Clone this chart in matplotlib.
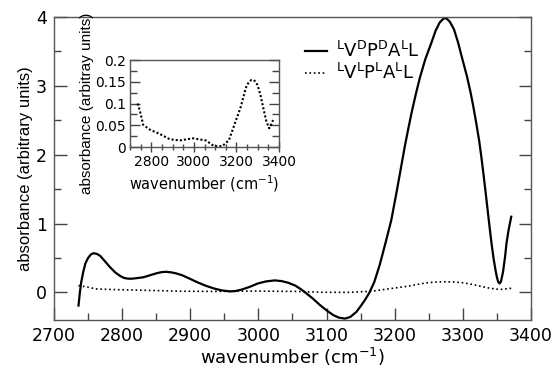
import matplotlib
matplotlib.use('Agg')
import matplotlib.pyplot as plt
from matplotlib.ticker import MultipleLocator

plt.rcParams['font.family'] = ['DejaVu Sans']
plt.rcParams['mathtext.fontset'] = 'custom'
plt.rcParams['mathtext.rm'] = 'DejaVu Sans'
plt.rcParams['mathtext.it'] = 'DejaVu Sans:italic'

# LVDPDAL (solid)
wn_d = [2736, 2738, 2740, 2743, 2746, 2750, 2754, 2758, 2763, 2768, 2775, 2782,
        2790, 2797, 2803, 2809, 2815, 2823, 2831, 2841, 2851, 2858, 2865, 2873,
        2880, 2888, 2897, 2910, 2922, 2934, 2946, 2958, 2966, 2975, 2987, 2999,
        3011, 3024, 3034, 3044, 3054, 3062, 3070, 3080, 3090, 3100, 3110, 3118,
        3127, 3135, 3144, 3150, 3157, 3163, 3170, 3178, 3186, 3195, 3203, 3209,
        3215, 3220, 3225, 3231, 3237, 3245, 3254, 3260, 3266, 3272, 3276, 3281,
        3287, 3293, 3299, 3306, 3311, 3315, 3320, 3324, 3327, 3330, 3333, 3336,
        3339, 3342, 3345, 3348, 3350, 3352, 3354, 3356, 3359, 3362, 3364, 3367, 3371]
abs_d = [-0.19, 0.0, 0.15, 0.30, 0.42, 0.50, 0.55, 0.57, 0.56, 0.53, 0.45, 0.37,
         0.29, 0.24, 0.21, 0.20, 0.20, 0.21, 0.22, 0.25, 0.28, 0.295, 0.30, 0.29,
         0.275, 0.25, 0.21, 0.15, 0.10, 0.06, 0.03, 0.015, 0.02, 0.04, 0.08, 0.13,
         0.16, 0.175, 0.165, 0.14, 0.10, 0.05, -0.01, -0.09, -0.18, -0.26, -0.33, -0.365,
         -0.38, -0.355, -0.28, -0.20, -0.10, 0.0, 0.15, 0.40, 0.70, 1.05, 1.47, 1.80,
         2.13, 2.38, 2.62, 2.88, 3.12, 3.39, 3.63, 3.80, 3.92, 3.98, 3.98, 3.93,
         3.82, 3.63, 3.40, 3.14, 2.92, 2.72, 2.44, 2.20, 1.98, 1.74, 1.49, 1.23,
         0.97, 0.72, 0.50, 0.32, 0.22, 0.15, 0.13, 0.16, 0.30, 0.52, 0.71, 0.90, 1.10]

# LVLPLAL (dotted)
wn_l = [2736, 2747, 2762, 2793, 2840, 2886, 2933, 2995, 3057, 3095, 3134, 3165,
        3196, 3219, 3230, 3243, 3250, 3262, 3270, 3281, 3290, 3298, 3305, 3315,
        3328, 3340, 3354, 3362, 3372]
abs_l = [0.10, 0.082, 0.051, 0.040, 0.030, 0.018, 0.015, 0.020, 0.015, 0.002, 0.002, 0.016,
         0.059, 0.090, 0.110, 0.134, 0.143, 0.151, 0.154, 0.154, 0.150, 0.143, 0.133, 0.115,
         0.086, 0.060, 0.043, 0.050, 0.062]

label_d = r'$^{\mathrm{L}}\mathrm{V}^{\mathrm{D}}\mathrm{P}^{\mathrm{D}}\mathrm{A}^{\mathrm{L}}\mathrm{L}$'
label_l = r'$^{\mathrm{L}}\mathrm{V}^{\mathrm{L}}\mathrm{P}^{\mathrm{L}}\mathrm{A}^{\mathrm{L}}\mathrm{L}$'

fig = plt.figure(figsize=(5.57, 3.72), dpi=100)
ax = fig.add_axes([0.0969, 0.1398, 0.8564, 0.8145])
ax.plot(wn_d, abs_d, color='black', lw=1.6, label=label_d)
ax.plot(wn_l, abs_l, color='black', lw=1.2, ls=':', label=label_l)
ax.set_xlim(2700, 3400)
ax.set_ylim(-0.4, 4.0)
ax.xaxis.set_major_locator(MultipleLocator(100))
ax.xaxis.set_minor_locator(MultipleLocator(50))
ax.yaxis.set_major_locator(MultipleLocator(1))
ax.yaxis.set_minor_locator(MultipleLocator(0.5))
ax.tick_params(which='both', direction='in', right=True, top=False, labelsize=12.5, width=1, color='#444444')
ax.tick_params(which='major', length=9, pad=5)
ax.tick_params(which='minor', length=5)
for s in ax.spines.values():
    s.set_color('#555555')
    s.set_linewidth(1.0)
ax.set_xlabel('wavenumber (cm$^{-1}$)', fontsize=13, labelpad=1)
ax.set_ylabel('absorbance (arbitrary units)', fontsize=12, family='Liberation Sans', labelpad=2)
ax.legend(loc='upper left', bbox_to_anchor=(0.5476, 0.89), bbox_transform=fig.transFigure,
          frameon=False, borderaxespad=0, borderpad=0, fontsize=13, handlelength=1.2,
          handletextpad=0.5, labelspacing=0.1)

ins = fig.add_axes([0.2334, 0.6048, 0.2675, 0.2339])
ins.plot(wn_l, abs_l, color='black', lw=1.5, ls=(0, (1, 1)))
ins.set_xlim(2700, 3400)
ins.set_ylim(0, 0.2)
ins.xaxis.set_major_locator(MultipleLocator(200))
ins.xaxis.set_minor_locator(MultipleLocator(50))
ins.yaxis.set_major_locator(MultipleLocator(0.05))
ins.yaxis.set_minor_locator(MultipleLocator(0.025))
ins.tick_params(which='both', right=True, top=False, labelsize=10, width=1, color='#444444')
ins.tick_params(axis='x', which='both', direction='inout', pad=2)
ins.tick_params(axis='y', which='both', direction='in', pad=3)
ins.tick_params(which='major', length=7)
ins.tick_params(which='minor', length=5)
ins.yaxis.set_major_formatter(plt.FuncFormatter(lambda v, p: '0' if v == 0 else f'{v:g}'))
for s in ins.spines.values():
    s.set_color('#555555')
    s.set_linewidth(1.0)
ins.set_xlabel('wavenumber (cm$^{-1}$)', fontsize=10.5, labelpad=3)
ins.set_ylabel('absorbance (arbitray units)', fontsize=11, family='Liberation Sans', labelpad=1)

fig.savefig('out.png', dpi=100)
